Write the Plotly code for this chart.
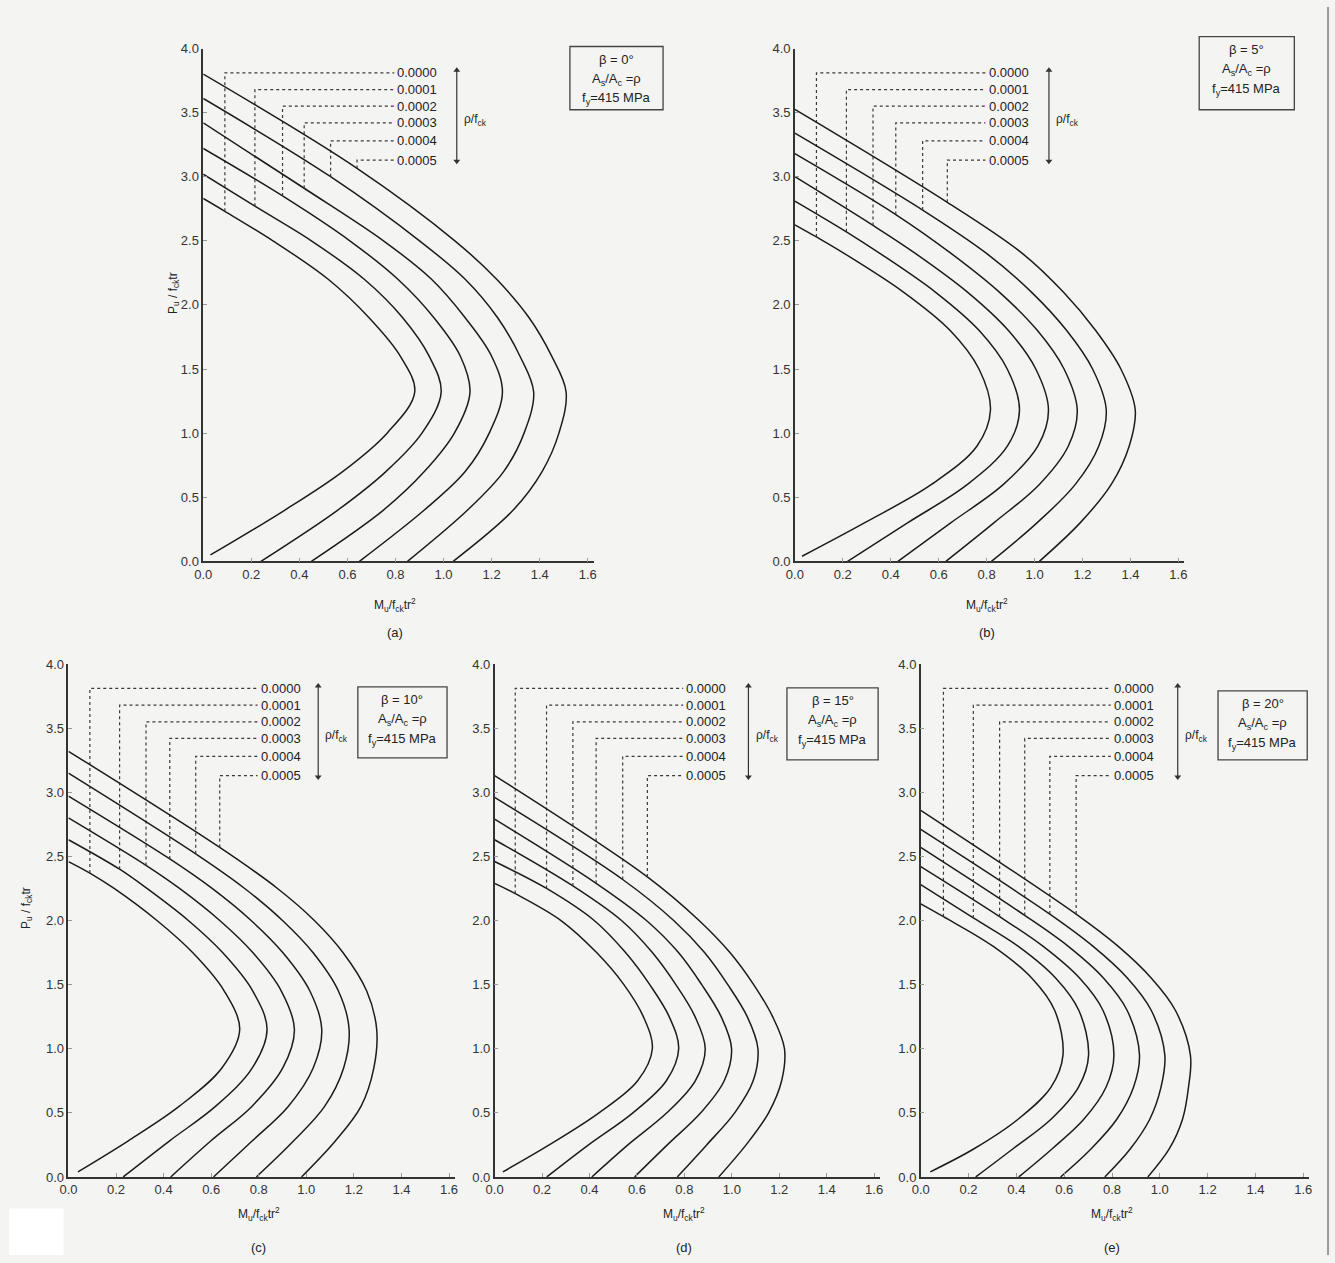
import plotly.graph_objects as go

W, H = 1335, 1263

# ---------------- shared data ----------------
X_TICKS = [0.0, 0.2, 0.4, 0.6, 0.8, 1.0, 1.2, 1.4, 1.6]
Y_TICKS = [0.0, 0.5, 1.0, 1.5, 2.0, 2.5, 3.0, 3.5, 4.0]
RHO_LABELS = ["0.0000", "0.0001", "0.0002", "0.0003", "0.0004", "0.0005"]
LEADER_P = [3.81, 3.68, 3.55, 3.42, 3.28, 3.13]
LABEL_M = 0.80
ARROW_P = [3.12, 3.83]
BETAS = ["0°", "5°", "10°", "15°", "20°"]
CAPTIONS = ["(a)", "(b)", "(c)", "(d)", "(e)"]
ARROW_M = [1.055, 1.06, 1.05, 1.07, 1.075]

# Each panel: P at M=0 (P0), leader attachment point (MV, PV),
# M read at a list of P levels (one row per curve), and bottom end (MB, PB).

# ---------------- panel (a), beta = 0 ----------------
A_P0 = [2.83, 3.02, 3.22, 3.42, 3.61, 3.80]
A_MV = [0.09, 0.215, 0.33, 0.42, 0.53, 0.64]
A_PV = [2.73, 2.77, 2.85, 2.91, 3.00, 3.065]
A_LEVELS = [2.5, 2.2, 1.9, 1.6, 1.32, 1.0, 0.7, 0.4]
A_M = [
    [0.29, 0.52, 0.69, 0.82, 0.88, 0.765, 0.58, 0.34],
    [0.45, 0.67, 0.83, 0.94, 0.99, 0.91, 0.76, 0.56],
    [0.61, 0.81, 0.96, 1.07, 1.11, 1.045, 0.92, 0.75],
    [0.75, 0.95, 1.09, 1.20, 1.245, 1.19, 1.09, 0.92],
    [0.90, 1.09, 1.225, 1.318, 1.375, 1.335, 1.25, 1.10],
    [1.047, 1.221, 1.356, 1.45, 1.51, 1.48, 1.41, 1.29],
]
A_MB = [0.03, 0.24, 0.45, 0.65, 0.85, 1.04]
A_PB = [0.05, 0.0, 0.0, 0.0, 0.0, 0.0]

# ---------------- panel (b), beta = 5 ----------------
B_P0 = [2.625, 2.81, 3.00, 3.18, 3.34, 3.525]
B_MV = [0.09, 0.215, 0.326, 0.421, 0.533, 0.636]
B_PV = [2.53, 2.57, 2.62, 2.705, 2.74, 2.80]
B_LEVELS = [2.4, 2.1, 1.8, 1.5, 1.18, 0.9, 0.6, 0.3]
B_M = [
    [0.207, 0.453, 0.648, 0.768, 0.816, 0.76, 0.57, 0.29],
    [0.356, 0.586, 0.769, 0.886, 0.937, 0.887, 0.72, 0.47],
    [0.504, 0.72, 0.891, 1.005, 1.058, 1.014, 0.87, 0.65],
    [0.653, 0.853, 1.012, 1.123, 1.178, 1.141, 1.02, 0.83],
    [0.801, 0.987, 1.134, 1.242, 1.299, 1.268, 1.17, 1.01],
    [0.95, 1.12, 1.255, 1.36, 1.42, 1.395, 1.32, 1.19],
]
B_MB = [0.03, 0.22, 0.43, 0.63, 0.82, 1.02]
B_PB = [0.04, 0.0, 0.0, 0.0, 0.0, 0.0]

# ---------------- panel (c), beta = 10 ----------------
C_P0 = [2.46, 2.63, 2.80, 2.97, 3.15, 3.32]
C_MV = [0.09, 0.215, 0.326, 0.426, 0.535, 0.636]
C_PV = [2.37, 2.40, 2.43, 2.48, 2.52, 2.57]
C_LEVELS = [2.25, 2.0, 1.75, 1.45, 1.15, 0.85, 0.55, 0.28]
C_M = [
    [0.192, 0.372, 0.522, 0.655, 0.72, 0.645, 0.465, 0.25],
    [0.33, 0.504, 0.648, 0.775, 0.835, 0.773, 0.618, 0.424],
    [0.467, 0.636, 0.775, 0.895, 0.95, 0.901, 0.771, 0.598],
    [0.604, 0.768, 0.901, 1.015, 1.065, 1.029, 0.924, 0.772],
    [0.741, 0.90, 1.028, 1.135, 1.18, 1.157, 1.077, 0.946],
    [0.879, 1.034, 1.154, 1.254, 1.296, 1.284, 1.23, 1.122],
]
C_MB = [0.04, 0.23, 0.43, 0.61, 0.79, 0.98]
C_PB = [0.04, 0.0, 0.0, 0.0, 0.0, 0.0]

# ---------------- panel (d), beta = 15 ----------------
D_P0 = [2.29, 2.46, 2.63, 2.79, 2.96, 3.13]
D_MV = [0.087, 0.219, 0.33, 0.428, 0.54, 0.644]
D_PV = [2.21, 2.25, 2.27, 2.29, 2.32, 2.34]
D_LEVELS = [2.0, 1.75, 1.5, 1.25, 1.0, 0.75, 0.5, 0.25]
D_M = [
    [0.28, 0.43, 0.545, 0.627, 0.665, 0.603, 0.44, 0.23],
    [0.42, 0.552, 0.654, 0.736, 0.776, 0.724, 0.583, 0.396],
    [0.535, 0.665, 0.764, 0.845, 0.888, 0.846, 0.726, 0.562],
    [0.64, 0.775, 0.873, 0.955, 0.999, 0.968, 0.869, 0.728],
    [0.755, 0.885, 0.983, 1.065, 1.11, 1.09, 1.012, 0.894],
    [0.862, 0.992, 1.092, 1.172, 1.222, 1.21, 1.155, 1.06],
]
D_MB = [0.035, 0.22, 0.41, 0.59, 0.77, 0.945]
D_PB = [0.04, 0.0, 0.0, 0.0, 0.0, 0.0]

# ---------------- panel (e), beta = 20 ----------------
E_P0 = [2.13, 2.28, 2.42, 2.57, 2.71, 2.86]
E_MV = [0.095, 0.22, 0.33, 0.435, 0.54, 0.65]
E_PV = [2.03, 2.02, 2.03, 2.04, 2.05, 2.05]
E_LEVELS = [1.8, 1.55, 1.3, 0.95, 0.7, 0.45, 0.22]
E_M = [
    [0.302, 0.465, 0.56, 0.595, 0.545, 0.407, 0.223],
    [0.407, 0.565, 0.661, 0.702, 0.66, 0.545, 0.386],
    [0.511, 0.665, 0.762, 0.808, 0.775, 0.682, 0.55],
    [0.616, 0.765, 0.863, 0.915, 0.89, 0.82, 0.713],
    [0.72, 0.865, 0.964, 1.021, 1.005, 0.958, 0.877],
    [0.825, 0.965, 1.065, 1.128, 1.12, 1.095, 1.04],
]
E_MB = [0.04, 0.23, 0.41, 0.585, 0.77, 0.95]
E_PB = [0.04, 0.0, 0.0, 0.0, 0.0, 0.0]

PANELS = [
    (A_P0, A_MV, A_PV, A_LEVELS, A_M, A_MB, A_PB),
    (B_P0, B_MV, B_PV, B_LEVELS, B_M, B_MB, B_PB),
    (C_P0, C_MV, C_PV, C_LEVELS, C_M, C_MB, C_PB),
    (D_P0, D_MV, D_PV, D_LEVELS, D_M, D_MB, D_PB),
    (E_P0, E_MV, E_PV, E_LEVELS, E_M, E_MB, E_PB),
]

# ---------------- layout geometry (page pixels) ----------------
GEOM = [  # x of M=0, x of M=1.6, y of P=4.0, y of P=0
    (196, 584, 42, 561),
    (793, 1180, 42, 561),
    (60, 444, 665, 1184),
    (490, 873, 665, 1184),
    (920, 1306, 665, 1184),
]
XMAX = 1.625
BOXES = [  # info boxes: left, right, top, bottom
    (566, 660, 40, 104),
    (1201, 1297, 30, 104),
    (352, 442, 688, 760),
    (785, 877, 689, 762),
    (1220, 1310, 692, 762),
]
XTITLE_Y = [605, 605, 1222, 1222, 1222]
CAP_Y = [633, 633, 1255, 1255, 1255]

FONT = "Liberation Sans, Arial, sans-serif"
INK = "#1c1c1c"


def px(x):
    return x / W


def py(y):
    return 1 - y / H


fig = go.Figure()
layout = dict(
    width=W, height=H, autosize=False,
    margin=dict(l=0, r=0, t=0, b=0),
    paper_bgcolor="#f4f4f2", plot_bgcolor="rgba(0,0,0,0)",
    showlegend=False, font=dict(family=FONT, color="#222"),
)
annotations = []
shapes = []

for i, (P0, MV, PV, LV, MM, MB, PB) in enumerate(PANELS):
    n = "" if i == 0 else str(i + 1)
    xa, ya = "x" + n, "y" + n
    x0, x16, ytop, ybot = GEOM[i]
    xr = x0 + (x16 - x0) * XMAX / 1.6
    layout["xaxis" + n] = dict(
        domain=[px(x0), px(xr)], range=[0, XMAX], anchor=ya,
        tickvals=X_TICKS, tickformat=".1f", ticks="inside", ticklen=4,
        tickcolor="#999", showline=True, linecolor="#333", linewidth=1.5,
        showgrid=False, zeroline=False, tickfont=dict(size=13, color="#333"),
    )
    layout["yaxis" + n] = dict(
        domain=[py(ybot), py(ytop)], range=[0, 4.0], anchor=xa,
        tickvals=Y_TICKS, tickformat=".1f", ticks="inside", ticklen=4,
        tickcolor="#999", showline=True, linecolor="#333", linewidth=1.5,
        showgrid=False, zeroline=False, tickfont=dict(size=13, color="#333"),
    )

    for k in range(6):
        # interaction curve assembled from the read points
        ms = [0.0, MV[k]] + MM[k] + [MB[k]]
        ps = [P0[k], PV[k]] + LV + [PB[k]]
        fig.add_trace(go.Scatter(
            x=ms, y=ps, xaxis=xa, yaxis=ya, mode="lines",
            line=dict(color=INK, width=1.5, shape="spline", smoothing=1.0),
            hoverinfo="skip"))
        # leader line
        fig.add_trace(go.Scatter(
            x=[MV[k], MV[k], LABEL_M - 0.005],
            y=[PV[k], LEADER_P[k], LEADER_P[k]],
            xaxis=xa, yaxis=ya, mode="lines",
            line=dict(color="#3a3a3a", width=1.2, dash="dot"),
            hoverinfo="skip"))
        annotations.append(dict(
            x=LABEL_M, y=LEADER_P[k], xref=xa, yref=ya, text=RHO_LABELS[k],
            showarrow=False, xanchor="left", yanchor="middle",
            font=dict(size=13, color="#222")))

    # double-headed arrow
    fig.add_trace(go.Scatter(
        x=[ARROW_M[i], ARROW_M[i]], y=ARROW_P, xaxis=xa, yaxis=ya,
        mode="lines+markers",
        line=dict(color="#333", width=1.2),
        marker=dict(symbol=["triangle-down", "triangle-up"], size=6, color="#333"),
        hoverinfo="skip"))
    annotations.append(dict(
        x=ARROW_M[i] + 0.022, y=3.44, xref=xa, yref=ya,
        text="ρ/f<sub>ck</sub>", showarrow=False, xanchor="left",
        font=dict(size=12, color="#222")))

    # info box
    bl, br, bt, bb = BOXES[i]
    shapes.append(dict(type="rect", xref="paper", yref="paper",
                       x0=px(bl), x1=px(br), y0=py(bb), y1=py(bt),
                       line=dict(color="#444", width=1.3)))
    cx = px((bl + br) / 2)
    lines = ["β = " + BETAS[i], "A<sub>s</sub>/A<sub>c</sub> =ρ",
             "f<sub>y</sub>=415 MPa"]
    for j, t in enumerate(lines):
        annotations.append(dict(
            x=cx, y=py(bt + 13 + j * 20), xref="paper", yref="paper",
            text=t, showarrow=False, xanchor="center", yanchor="middle",
            font=dict(size=13, color="#222")))

    # x title and caption
    xc = px((x0 + x16) / 2)
    annotations.append(dict(
        x=xc, y=py(XTITLE_Y[i]), xref="paper", yref="paper",
        text="M<sub>u</sub>/f<sub>ck</sub>tr<sup>2</sup>", showarrow=False,
        xanchor="center", yanchor="middle", font=dict(size=12, color="#222")))
    annotations.append(dict(
        x=xc, y=py(CAP_Y[i]), xref="paper", yref="paper",
        text=CAPTIONS[i], showarrow=False, xanchor="center", yanchor="middle",
        font=dict(size=13, color="#222")))

# y titles (panels a and c)
for (xx, yy) in [(166, 290), (18, 912)]:
    annotations.append(dict(
        x=px(xx), y=py(yy), xref="paper", yref="paper",
        text="P<sub>u</sub> / f<sub>ck</sub>tr", showarrow=False, textangle=-90,
        xanchor="center", yanchor="middle", font=dict(size=12, color="#222")))

# page edges of the scan
shapes.append(dict(type="rect", xref="paper", yref="paper",
                   x0=0, x1=px(55), y0=0, y1=py(1216),
                   fillcolor="#ffffff", line=dict(width=0), layer="below"))
shapes.append(dict(type="line", xref="paper", yref="paper",
                   x0=px(1331), x1=px(1331), y0=0, y1=1,
                   line=dict(color="#9a9a9a", width=2)))

layout["annotations"] = annotations
layout["shapes"] = shapes
fig.update_layout(**layout)

fig.write_html(
    "out.html",
    config={"displayModeBar": False},
    post_script="document.body.style.margin='0';document.body.style.overflow='hidden';",
)
